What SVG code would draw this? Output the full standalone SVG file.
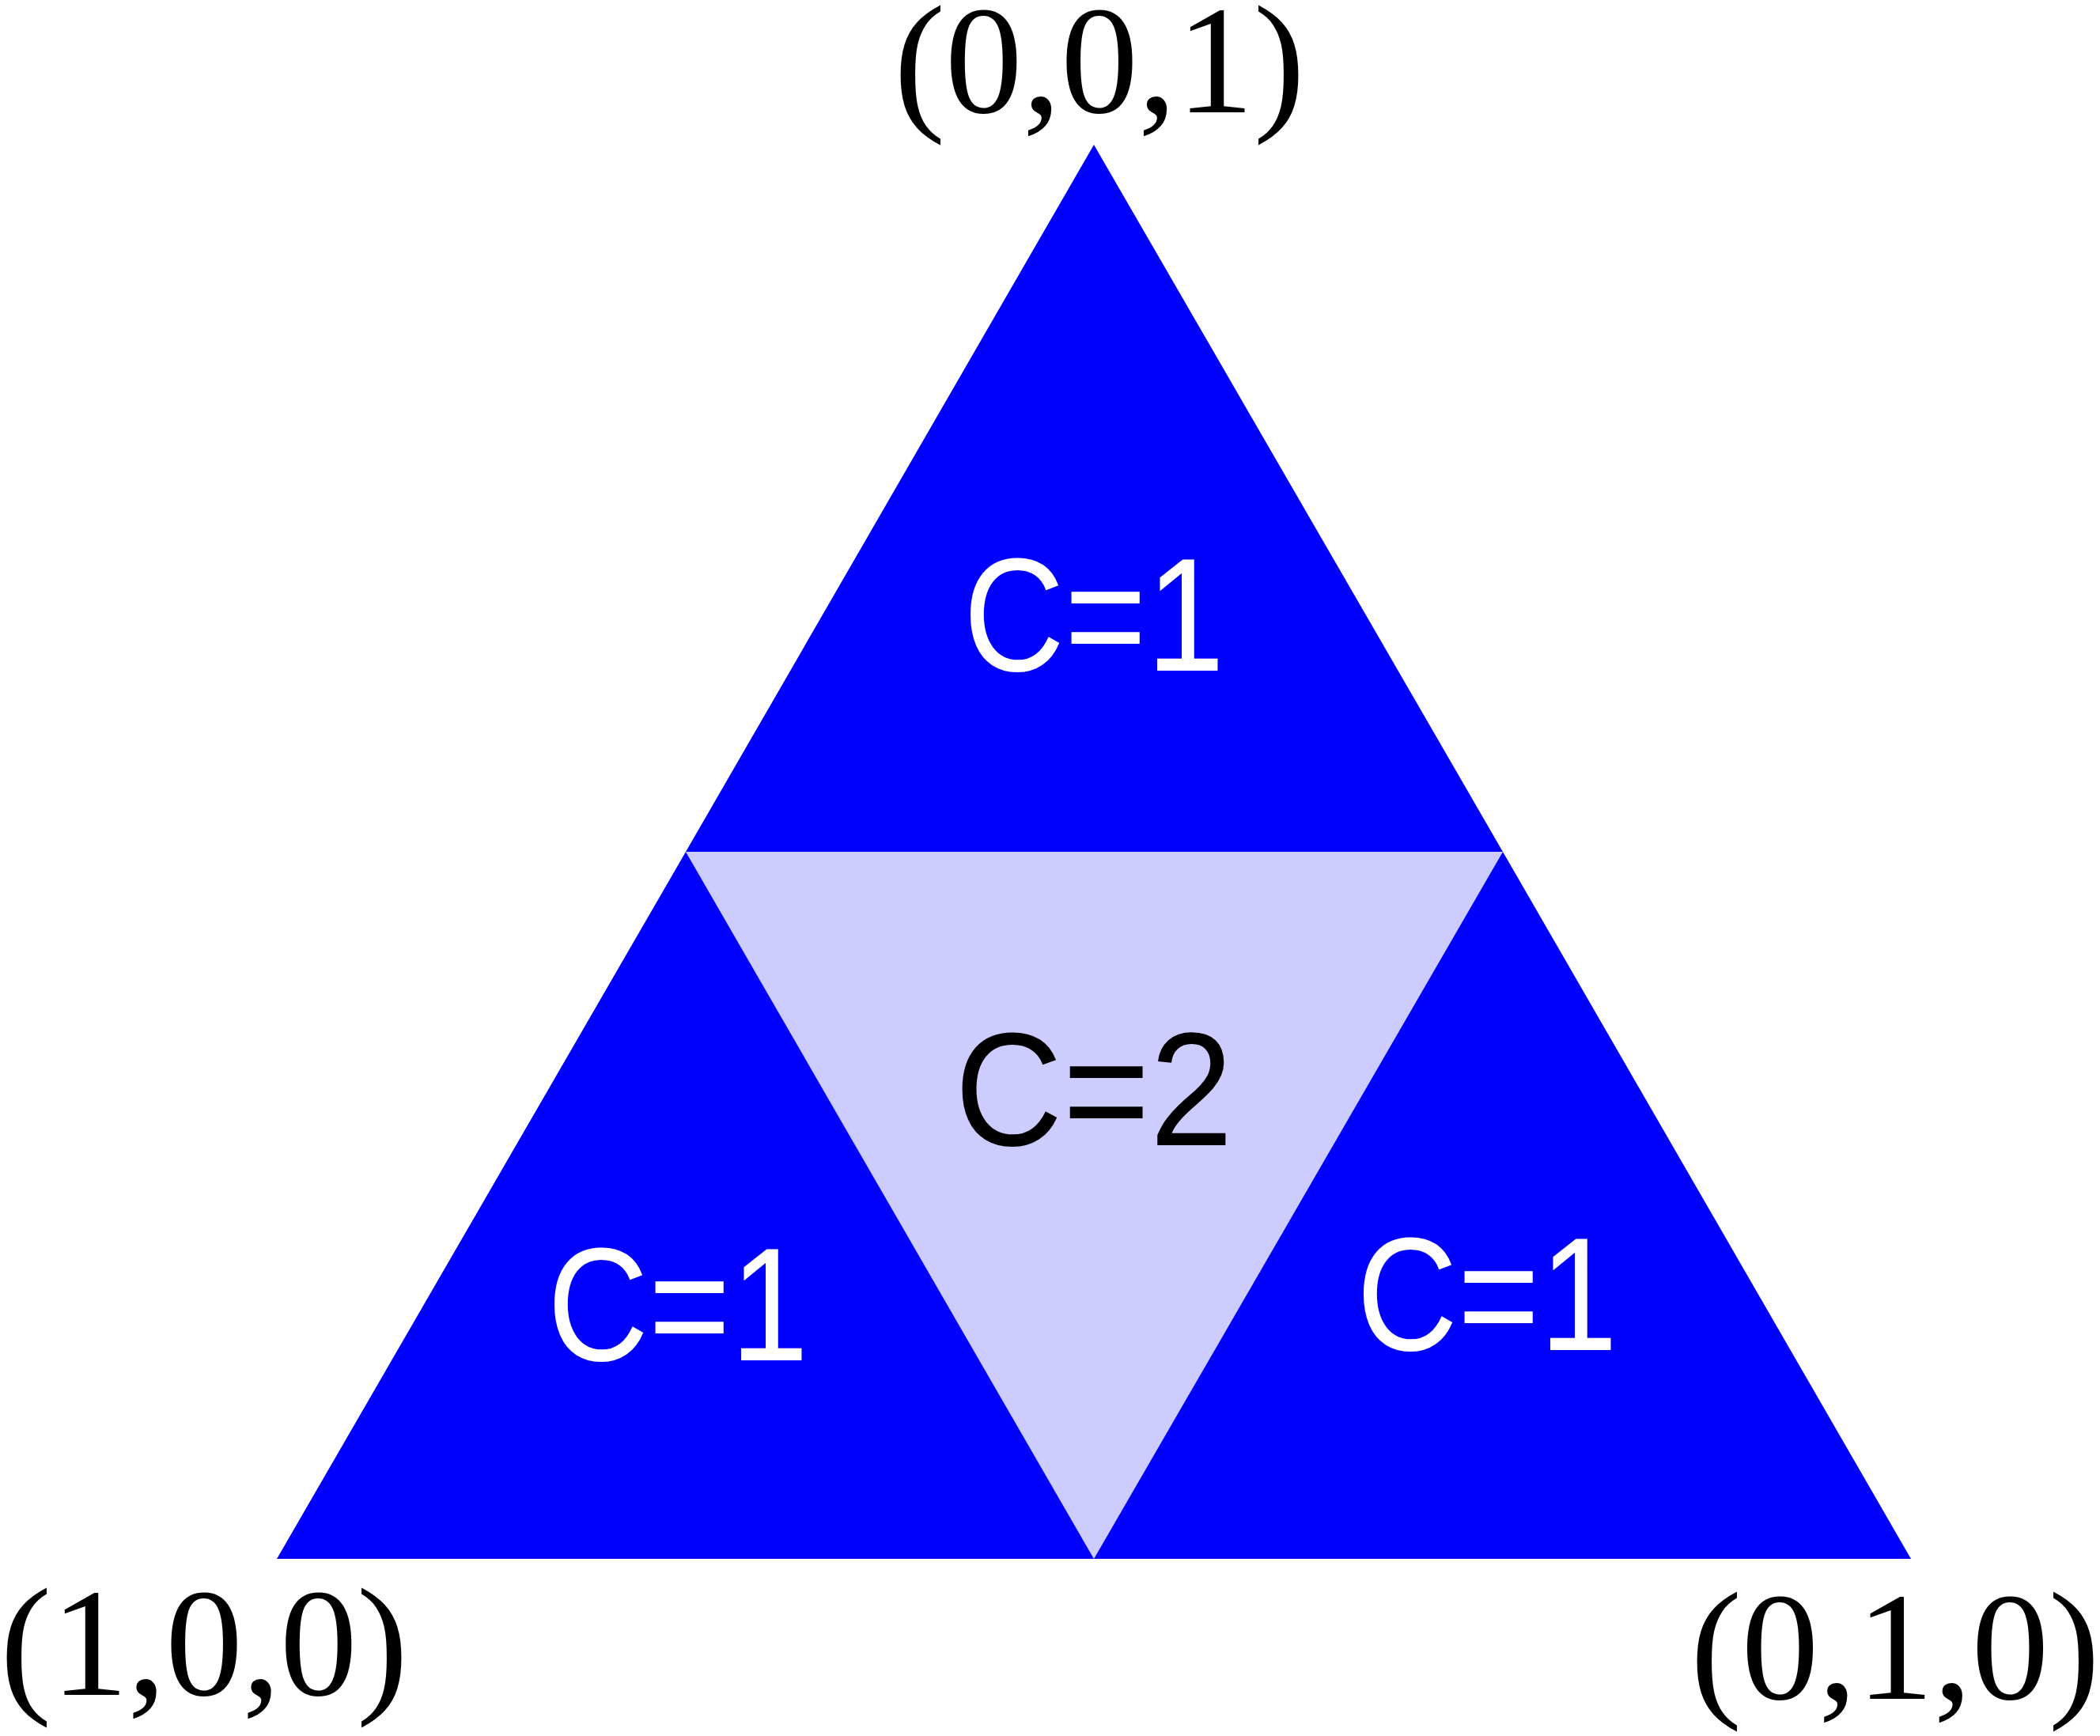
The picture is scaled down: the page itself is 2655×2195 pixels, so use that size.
<svg xmlns="http://www.w3.org/2000/svg" width="2655" height="2195" viewBox="0 0 2655 2195">
<style>
.c{font-family:"Liberation Sans",Arial,sans-serif;font-size:205px;text-anchor:middle}
.v{font-family:"Liberation Serif","Times New Roman",serif;font-size:196px;text-anchor:middle;fill:#000}
</style>
<rect width="2655" height="2195" fill="#fff"/>
<g id="top"><polygon points="1383,183 867,1077 1900,1077" fill="#0000ff"/><text class="c" x="1383" y="848" fill="#fff" textLength="330" lengthAdjust="spacingAndGlyphs">C=1</text></g>
<g id="center"><polygon points="867,1077 1900,1077 1383,1971" fill="#ccccff"/><text class="c" x="1383" y="1448" fill="#000" textLength="352" lengthAdjust="spacingAndGlyphs">C=2</text></g>
<g id="left"><polygon points="867,1077 350,1971 1383,1971" fill="#0000ff"/><text class="c" x="857" y="1720" fill="#fff" textLength="330" lengthAdjust="spacingAndGlyphs">C=1</text></g>
<g id="right"><polygon points="1900,1077 1383,1971 2416,1971" fill="#0000ff"/><text class="c" x="1880" y="1707" fill="#fff" textLength="330" lengthAdjust="spacingAndGlyphs">C=1</text></g>
<g id="labels">
<text class="v" x="1390" y="142" textLength="520" lengthAdjust="spacing">(0,0,1)</text>
<text class="v" x="258" y="2143" textLength="516" lengthAdjust="spacing">(1,0,0)</text>
<text class="v" x="2396" y="2148" textLength="518" lengthAdjust="spacing">(0,1,0)</text>
</g>
</svg>
